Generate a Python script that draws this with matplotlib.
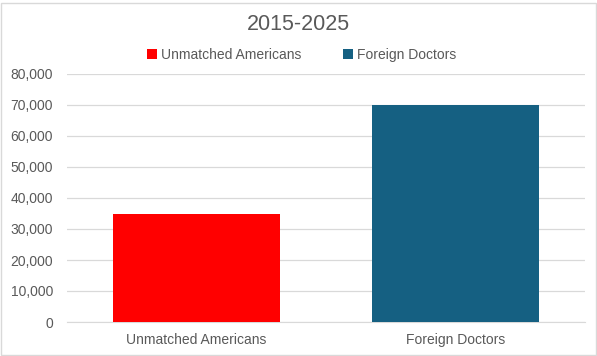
import matplotlib.pyplot as plt
from matplotlib.patches import Rectangle
from matplotlib.ticker import FuncFormatter

# data
categories = ['Unmatched Americans', 'Foreign Doctors']
values = [35000, 70000]
colors = ['#ff0000', '#156082']
title = '2015-2025'

plt.rcParams['font.family'] = ['Liberation Sans', 'DejaVu Sans']
text_color = '#595959'

fig = plt.figure(figsize=(5.97, 3.56), dpi=100)
ax = fig.add_axes([67 / 597, 1 - 322 / 356, 518 / 597, 248 / 356])

bars = ax.bar(range(len(categories)), values, width=0.645, color=colors, zorder=3)
ax.set_xlim(-0.5, len(categories) - 0.5)
ax.set_ylim(0, 80000)
ax.set_yticks(range(0, 80001, 10000))
ax.yaxis.set_major_formatter(FuncFormatter(lambda v, p: f'{int(v):,}'))
ax.set_xticks(range(len(categories)))
ax.set_xticklabels(categories)
ax.grid(axis='y', color='#d9d9d9', linewidth=0.9, zorder=0)
for s in ax.spines.values():
    s.set_visible(False)
ax.spines['bottom'].set_visible(True)
ax.spines['bottom'].set_color('#d9d9d9')
ax.tick_params(axis='both', length=0, labelsize=10, colors=text_color)
ax.tick_params(axis='y', pad=10)
ax.tick_params(axis='x', pad=8)

fig.text(0.5, 1 - 24 / 356, title, ha='center', va='center', fontsize=15.5, color=text_color)

leg = fig.legend(bars, categories, loc='center', bbox_to_anchor=(0.505, 1 - 55 / 356),
                 ncol=2, frameon=False, fontsize=10, handlelength=0.7, handleheight=0.7,
                 handletextpad=0.3, columnspacing=3.0, labelcolor=text_color)

# outer chart border
fig.patches.append(Rectangle((0.001, 0.002), 0.997, 0.99, transform=fig.transFigure,
                             fill=False, edgecolor='#d9d9d9', linewidth=1))

fig.savefig('out.png', dpi=100)
